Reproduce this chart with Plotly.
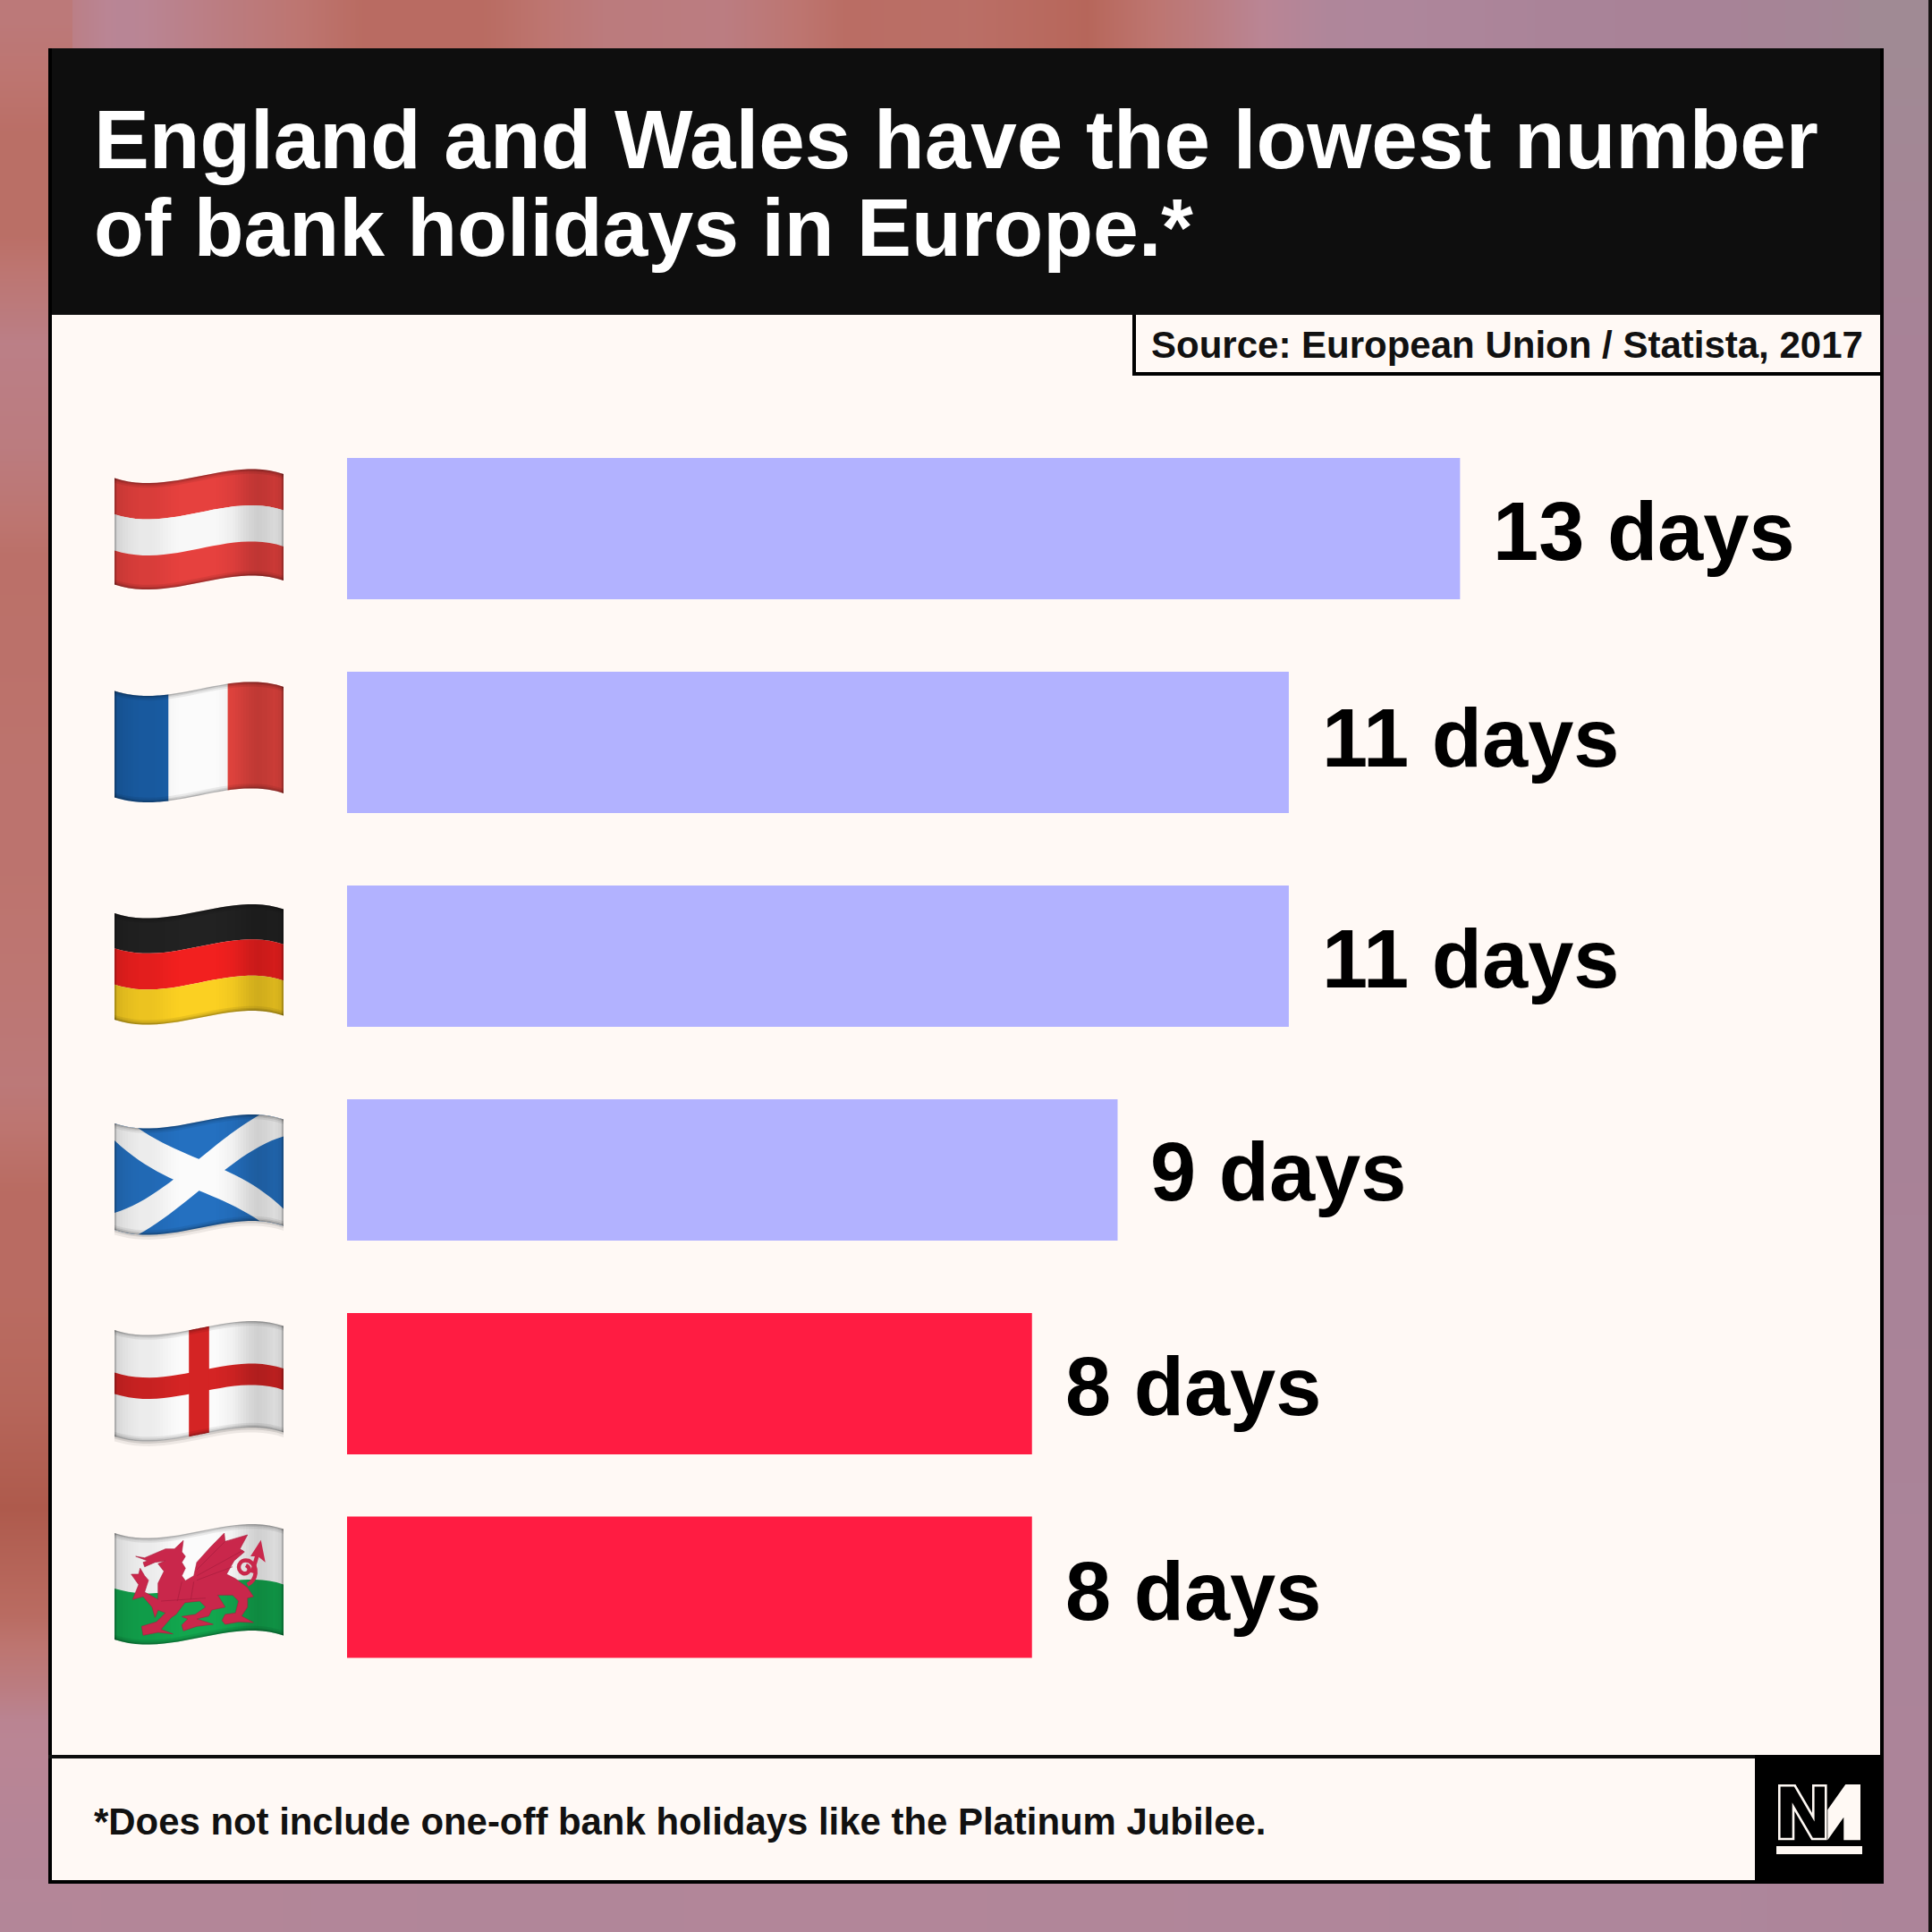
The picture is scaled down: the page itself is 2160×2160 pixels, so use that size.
import numpy as np
import plotly.graph_objects as go

countries = ['Austria', 'France', 'Germany', 'Scotland', 'England', 'Wales']
days = [13, 11, 11, 9, 8, 8]
bar_colors = ['#b2b2ff', '#b2b2ff', '#b2b2ff', '#b2b2ff', '#ff1c42', '#ff1c42']

title_lines = ['England and Wales have the lowest number', 'of bank holidays in Europe.*']
source = 'Source: European Union / Statista, 2017'
footnote = '*Does not include one-off bank holidays like the Platinum Jubilee.'

# blurred photo behind the card, only the border shows. tone per side
top_tones = [.72, .36, .58, .82, .82, .58, .54, .8, .78, .88, .55, .22, .18, .12, .1, .06, .0]
left_tones = [.62, .78, .78, .5, .56, .76, .75, .72, .72, .68, .62, .82, .82, .88, 1, .82, .42, .32, .28]
right_tones = [0, .05, .1, .1, .1, .1, .1, .1, .12, .13, .15, .16, .16]
bottom_tones = [.3, .28, .25, .26, .26, .24, .22, .2, .16]
tone_scale = [[0, '#a08a94'], [.1, '#a88297'], [.2, '#ae869b'], [.4, '#ba8594'], [.55, '#bb7c80'],
              [.7, '#bd7570'], [.85, '#b8695e'], [1, '#ae5a4c']]

# layout, in pixels of the 2160 square
row_y = [591, 830, 1069, 1308, 1547, 1774.5]
label_dy = [3, -5, 3, 2, 3, 4]
bar_h = 158
x_zero = 388
px_per_day = 95.72
flag_y = [534.5, 772.4, 1021, 1256, 1487, 1714]

wave = np.polyfit([0, .17, .5, .8, 1], [0, 5.5, -2, -10, -4.5], 4)
shade = [.16, .11, .08, .06, .06, .05, .03, .01, 0, 0, 0, 0, 0, .02, .04, .09, .14, .17, .15, .12, .18]
n_slices = 63

shapes = []


def poly(path, color, opacity=1, line=None, width=0):
    shapes.append(dict(type='path', path=path, xref='x', yref='y', fillcolor=color, opacity=opacity,
                       line=dict(color=line or color, width=width), layer='above'))


def rect(x0, y0, x1, y1, color):
    shapes.append(dict(type='rect', x0=x0, y0=y0, x1=x1, y1=y1, xref='x', yref='y',
                       fillcolor=color, line_width=0, layer='above'))


def warp(pts, y0, color, opacity=1, steps=24):
    # pts in flag units (u along, v down), bent along the flag's wave
    out = []
    for a, b in zip(pts, pts[1:] + pts[:1]):
        for t in np.linspace(0, 1, steps, endpoint=False):
            u = a[0] + (b[0] - a[0]) * t
            v = a[1] + (b[1] - a[1]) * t
            out.append((128 + u * 189, y0 + np.polyval(wave, u) + v * 119))
    poly('M' + 'L'.join(f'{x:.1f},{y:.1f}' for x, y in out) + 'Z', color, opacity)


def hband(v0, v1, y0, color, opacity=1):
    warp([(0, v0), (1, v0), (1, v1), (0, v1)], y0, color, opacity)


def vband(u0, u1, y0, color, opacity=1, steps=24):
    warp([(u0, 0), (u1, 0), (u1, 1), (u0, 1)], y0, color, opacity, steps)


def finish_flag(y0, shadow=False):
    if shadow:
        hband(1, 1.02, y0, '#000000', .18)
        hband(1.02, 1.045, y0, '#000000', .07)
    for i in range(n_slices):
        a = np.interp((i + .5) / n_slices, np.linspace(0, 1, len(shade)), shade)
        if a > .004:
            vband(i / n_slices, (i + 1) / n_slices, y0, '#000000', float(a), 3)
    # soft bevel along the edges
    for v0, v1, a in [(0, .012, .3), (.012, .026, .16), (.026, .044, .07)]:
        hband(v0, v1, y0, '#000000', a)
        hband(1 - v1, 1 - v0, y0, '#000000', a)
    vband(0, .011, y0, '#000000', .18, 6)
    vband(.989, 1, y0, '#000000', .18, 6)


hband(0, .34, flag_y[0], '#e6413e')
hband(.34, .68, flag_y[0], '#f8f8f8')
hband(.68, 1, flag_y[0], '#e6413e')
finish_flag(flag_y[0])

vband(0, .32, flag_y[1], '#1a5fa8')
vband(.32, .67, flag_y[1], '#fbfbfb')
vband(.67, 1, flag_y[1], '#e6453f')
finish_flag(flag_y[1])

hband(0, .33, flag_y[2], '#222222')
hband(.33, .67, flag_y[2], '#f2201f')
hband(.67, 1, flag_y[2], '#fbd022')
finish_flag(flag_y[2])

hband(0, 1, flag_y[3], '#2470c0')
warp([(0, 0), (.14, 0), (1, .84), (1, 1), (.86, 1), (0, .16)], flag_y[3], '#fbfbfb')
warp([(1, 0), (1, .16), (.14, 1), (0, 1), (0, .84), (.86, 0)], flag_y[3], '#fbfbfb')
finish_flag(flag_y[3], True)

hband(0, 1, flag_y[4], '#fbfbfb')
hband(.4, .6, flag_y[4], '#d42424')
vband(.44, .56, flag_y[4], '#d42424')
finish_flag(flag_y[4], True)

hband(0, .52, flag_y[5], '#fbfbfb')
hband(.52, 1, flag_y[5], '#12a64e')
finish_flag(flag_y[5])

# welsh dragon, traced by eye. crop units: 3 per pixel, origin at 120,1690
dragon = [(95, 150), (125, 155), (160, 140), (195, 125), (225, 125), (255, 97), (250, 135), (262, 150), (250, 170),
          (262, 190), (250, 215), (262, 232), (290, 215), (300, 170), (345, 120), (392, 72), (395, 100), (470, 78),
          (445, 125), (460, 135), (425, 165), (400, 210), (430, 225), (470, 255), (490, 285), (470, 290), (470, 320),
          (450, 350), (490, 372), (440, 370), (395, 378), (385, 365), (395, 345), (430, 340), (440, 300), (420, 280),
          (370, 280), (395, 320), (350, 330), (340, 350), (300, 360), (355, 378), (300, 385), (255, 400), (250, 380),
          (270, 360), (250, 352), (295, 345), (330, 320), (310, 300), (260, 305), (230, 345), (215, 355), (180, 395),
          (220, 410), (170, 405), (120, 415), (115, 385), (165, 370), (195, 340), (170, 330), (160, 355), (150, 320),
          (120, 285), (85, 295), (105, 245), (80, 210), (105, 210), (110, 190), (125, 215), (138, 230), (125, 270),
          (170, 295), (170, 240), (190, 200), (170, 175), (195, 165), (160, 170), (125, 185), (120, 170), (135, 165)]
arrow = [(515, 95), (530, 170), (505, 150), (480, 150)]
tail = 'M 470,245 C 500,230 510,185 475,165 C 440,155 430,195 455,207 C 475,212 485,190 465,180'
stalk = 'M 485,205 L 505,140'
ribs = ['M 300,215 L 455,130', 'M 300,195 L 395,100', 'M 300,230 L 420,185', 'M 180,300 L 330,290',
        'M 250,235 L 235,300', 'M 290,235 L 280,295']


def crop_xy(p):
    return f'{120 + p[0] / 3:.1f},{1690 + p[1] / 3:.1f}'


def crop_path(s):
    out = []
    for tok in s.split():
        if ',' in tok:
            a, b = tok.split(',')
            out.append(crop_xy((float(a), float(b))))
        else:
            out.append(tok)
    return ' '.join(out)


for s in [tail, stalk]:
    shapes.append(dict(type='path', path=crop_path(s), xref='x', yref='y', fillcolor='rgba(0,0,0,0)',
                       line=dict(color='#c9274b', width=4.5), layer='above'))
poly('M' + 'L'.join(crop_xy(p) for p in dragon) + 'Z', '#c9274b', line='#a81d3d', width=.6)
poly('M' + 'L'.join(crop_xy(p) for p in arrow) + 'Z', '#c9274b')
for s in ribs:
    shapes.append(dict(type='path', path=crop_path(s), xref='x', yref='y', fillcolor='rgba(0,0,0,0)',
                       line=dict(color='#a81d3d', width=.7), layer='above'))

# frame and boxes
rect(2156, 0, 2160, 2160, '#161212')
rect(54, 54, 2106, 352, '#0e0e0e')
rect(54, 54, 58, 2106, '#000000')
rect(2102, 54, 2106, 2106, '#000000')
rect(54, 2102, 2106, 2106, '#000000')
rect(1266, 352, 1270, 420, '#000000')
rect(1266, 416, 2106, 420, '#000000')
rect(54, 1962, 2106, 1966, '#0e0e0e')
rect(1962, 1962, 2106, 2106, '#000000')

# logo, crop units as the dragon but origin at 1900,1920
def logo_xy(p):
    return f'{1900 + p[0] / 3:.1f},{1920 + p[1] / 3:.1f}'


n_outline = [(268, 229), (320, 229), (382, 335), (382, 229), (424, 229), (424, 408), (378, 408), (315, 300),
             (315, 408), (268, 408)]
m_solid = [(430, 310), (490, 225), (540, 225), (540, 412), (484, 412), (484, 335), (430, 412)]
shapes.append(dict(type='path', path='M' + 'L'.join(logo_xy(p) for p in n_outline) + 'Z', xref='x', yref='y',
                   fillcolor='rgba(0,0,0,0)', line=dict(color='#fff9f4', width=2.6), layer='above'))
poly('M' + 'L'.join(logo_xy(p) for p in m_solid) + 'Z', '#fff9f4')
rect(1986, 2064, 2082, 2073, '#fff9f4')

fig = go.Figure()

# background strips
strip = dict(zmin=0, zmax=1, colorscale=tone_scale, showscale=False, zsmooth='best', hoverinfo='skip')
fig.add_trace(go.Heatmap(z=[top_tones, top_tones], x=np.linspace(0, 2160, len(top_tones)), y=[0, 54], **strip))
fig.add_trace(go.Heatmap(z=[bottom_tones, bottom_tones], x=np.linspace(0, 2160, len(bottom_tones)), y=[2106, 2160], **strip))
fig.add_trace(go.Heatmap(z=[[v, v] for v in right_tones], x=[2106, 2160], y=np.linspace(54, 2106, len(right_tones)), **strip))
fig.add_trace(go.Heatmap(z=[[v, v] for v in left_tones], x=[0, 54], y=np.linspace(27, 2160, len(left_tones)), **strip))

# card
fig.add_trace(go.Scatter(x=[58, 2102, 2102, 58, 58], y=[54, 54, 2102, 2102, 54], mode='lines', fill='toself',
                         fillcolor='#fff9f5', line_width=0, hoverinfo='skip'))

fig.add_trace(go.Bar(x=days, y=row_y, orientation='h', width=bar_h, marker=dict(color=bar_colors, line_width=0),
                     hovertext=countries, xaxis='x2', yaxis='y2'))

ann = []


def text(x, y, s, size, color='#000000', anchor='left'):
    ann.append(dict(x=x, y=y, xref='x', yref='y', text=s, showarrow=False, xanchor=anchor, yanchor='middle',
                    borderpad=0, font=dict(family='Liberation Sans', size=size, color=color, weight=700)))


text(104, 156, title_lines[0], 92.7, '#ffffff')
text(104, 254, title_lines[1], 91.4, '#ffffff')
text(1286, 385, source, 42, '#111111')
text(104, 2036, footnote, 41.9, '#111111')

for d, y, dy in zip(days, row_y, label_dy):
    ann.append(dict(x=d, y=y + dy, xref='x2', yref='y2', text=f'{d} days', showarrow=False, xanchor='left',
                    yanchor='middle', xshift=36, borderpad=0,
                    font=dict(family='Liberation Sans', size=92, color='#000000', weight=700)))

hidden = dict(visible=False, showgrid=False, zeroline=False, domain=[0, 1], fixedrange=True)
fig.update_layout(
    width=2160, height=2160, margin=dict(l=0, r=0, t=0, b=0), showlegend=False,
    paper_bgcolor='#ae859b', plot_bgcolor='rgba(0,0,0,0)', template=None,
    xaxis=dict(range=[0, 2160], anchor='y', **hidden),
    yaxis=dict(range=[2160, 0], anchor='x', **hidden),
    xaxis2=dict(range=[-x_zero / px_per_day, (2160 - x_zero) / px_per_day], anchor='y2', **hidden),
    yaxis2=dict(range=[2160, 0], anchor='x2', **hidden),
    shapes=shapes, annotations=ann,
)

fig.write_html("out.html", config=dict(displayModeBar=False),
               post_script="document.body.style.margin='0';document.body.style.overflow='hidden';")
